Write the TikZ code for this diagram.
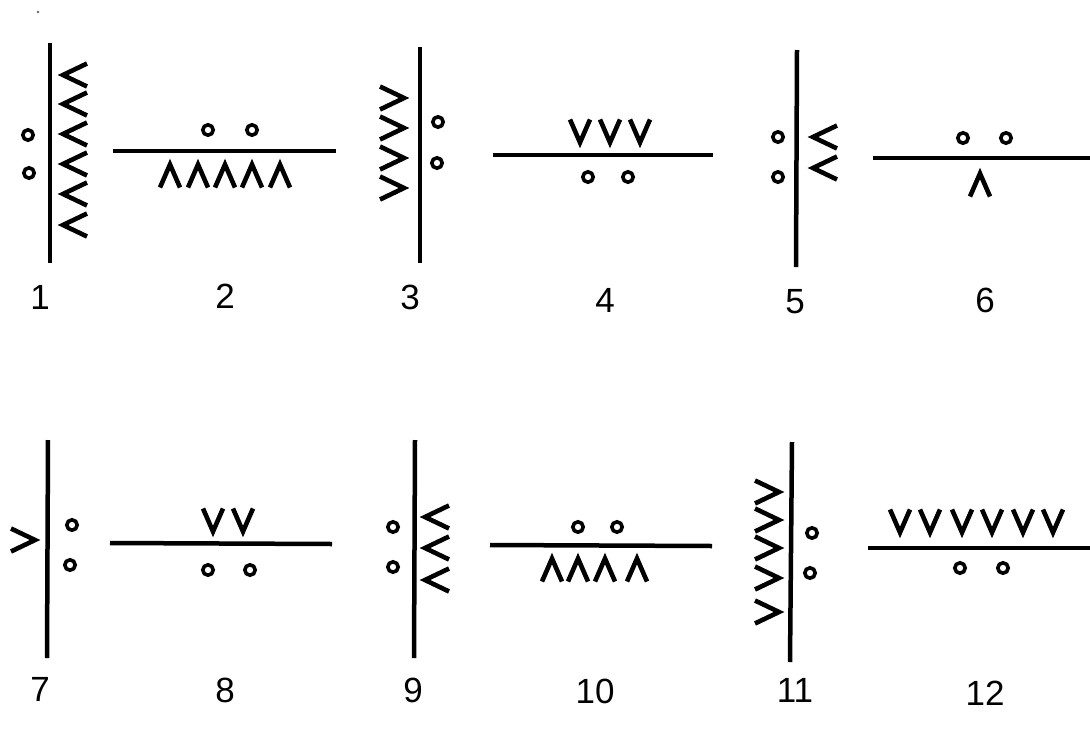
\documentclass[tikz,border=0pt]{standalone}
\usepackage{fontspec}
\setmainfont{Liberation Sans}
\begin{document}
\begin{tikzpicture}[x=1pt,y=-1pt,
  wall/.style={line width=4.5pt,line cap=butt},
  chev/.style={line width=4.6pt,line join=miter,line cap=butt},
  hole/.style={line width=3.6pt},
  num/.style={font=\fontsize{35}{35}\selectfont,inner sep=0pt},
  lt/.pic={\draw[chev] (12,-11.5)--(-12,0)--(12,11.5);},
  gt/.pic={\draw[chev] (-12,-11.5)--(12,0)--(-12,11.5);},
  up/.pic={\draw[chev] (-10,11.5)--(0,-11.5)--(10,11.5);},
  dn/.pic={\draw[chev] (-10,-11.5)--(0,11.5)--(10,-11.5);}
]
\useasboundingbox (0,0) rectangle (1090,745);
\newcommand\hl[2]{\draw[hole] (#1,#2) circle[radius=5.2];}
\fill[black!60] (38,12) circle[radius=1.3];
% ---------- row 1 ----------
% 1
\draw[wall] (50,43) -- (50,263);
\foreach \y in {75,104,134,164,194,225} \pic at (75,\y) {lt};
\hl{28}{135}\hl{29}{173}
\node[num] (n1) at (40,297) {1};
% 2
\draw[wall] (113,151) -- (336,151);
\hl{208}{130}\hl{252}{130}
\foreach \x in {170,198,225,252,280} \pic at (\x,176) {up};
\node[num] (n2) at (225,296) {2};
% 3
\draw[wall] (420,47) -- (420,263);
\foreach \y in {98,128,158,188} \pic at (392,\y) {gt};
\hl{438}{122}\hl{437}{163}
\node[num] (n3) at (410,297) {3};
% 4
\draw[wall] (493,155) -- (713,155);
\foreach \x in {580,610,640} \pic at (\x,131) {dn};
\hl{588}{177}\hl{628}{177}
\node[num] (n4) at (605,300) {4};
% 5
\draw[wall] (797,50) -- (796,267);
\hl{778}{137}\hl{778}{177}
\foreach \y in {137,168} \pic at (825,\y) {lt};
\node[num] (n5) at (795,302) {5};
% 6
\draw[wall] (873,158) -- (1090,158);
\hl{963}{138}\hl{1006}{138}
\pic at (980,185) {up};
\node[num] (n6) at (985,300) {6};
% ---------- row 2 ----------
% 7
\draw[wall] (48,440) -- (47,658);
\pic at (23,540) {gt};
\hl{72}{525}\hl{70}{565}
\node[num] (n7) at (40,689) {7};
% 8
\draw[wall] (110,543) -- (332,544);
\foreach \x in {213,243} \pic at (\x,520) {dn};
\hl{208}{570}\hl{250}{570}
\node[num] (n8) at (225,690) {8};
% 9
\draw[wall] (415,440) -- (414,658);
\hl{393}{527}\hl{393}{567}
\foreach \y in {517,548,580} \pic at (437,\y) {lt};
\node[num] (n9) at (413,690) {9};
% 10
\draw[wall] (490,545) -- (712,546);
\hl{578}{527}\hl{617}{527}
\foreach \x in {552,578,605,637} \pic at (\x,570) {up};
\node[num] (n10) at (595,691) {10};
% 11
\draw[wall] (792,442) -- (790,662);
\foreach \y in {492,520,548,578,612} \pic at (767,\y) {gt};
\hl{812}{533}\hl{810}{573}
\node[num] (n11) at (795,690) {11};
% 12
\draw[wall] (868,548) -- (1090,548);
\foreach \x in {900,930,962,992,1023,1053} \pic at (\x,521) {dn};
\hl{960}{568}\hl{1003}{568}
\node[num] (n12) at (985,693) {12};
\end{tikzpicture}
\end{document}
